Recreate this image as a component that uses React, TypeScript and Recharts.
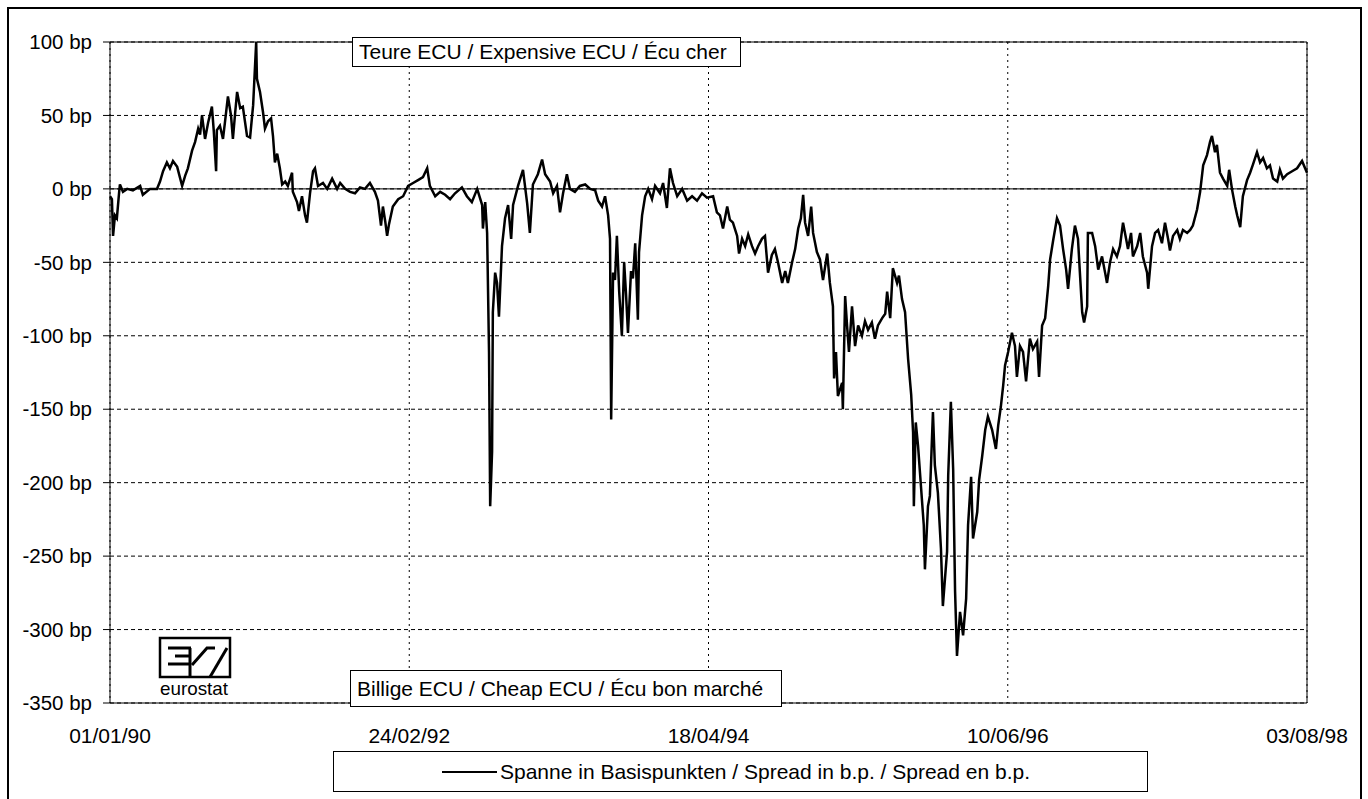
import React from 'react';
import { LineChart, Line, XAxis, YAxis, CartesianGrid, ReferenceLine, Legend } from 'recharts';

const FONT = '"Liberation Sans", Arial, Helvetica, sans-serif';

// days since 01/01/90
const dayOffsets = [
  0, 5, 8, 13, 18, 24, 26, 34, 45, 60,
  79, 86, 105, 123, 131, 139, 149, 157, 165, 176,
  183, 189, 197, 204, 215, 223, 231, 236, 241, 249,
  257, 267, 272, 278, 280, 288, 296, 301, 309, 317,
  322, 328, 333, 341, 348, 359, 367, 375, 383, 385,
  393, 401, 406, 414, 422, 427, 432, 438, 445, 451,
  459, 466, 477, 479, 490, 495, 503, 511, 516, 524,
  532, 537, 545, 558, 569, 582, 595, 603, 616, 629,
  642, 655, 668, 681, 694, 702, 710, 715, 721, 726,
  731, 741, 755, 768, 781, 794, 807, 820, 831, 838,
  852, 865, 878, 891, 904, 922, 935, 948, 962, 975,
  977, 983, 988, 993, 996, 1001, 1003, 1009, 1014, 1019,
  1027, 1035, 1043, 1051, 1056, 1069, 1082, 1093, 1100, 1108,
  1121, 1132, 1140, 1153, 1161, 1171, 1179, 1187, 1197, 1205,
  1218, 1231, 1245, 1258, 1271, 1279, 1289, 1297, 1305, 1310,
  1313, 1318, 1323, 1328, 1334, 1341, 1347, 1352, 1357, 1365,
  1370, 1376, 1383, 1386, 1394, 1402, 1410, 1420, 1428, 1441,
  1449, 1459, 1467, 1475, 1486, 1499, 1512, 1525, 1538, 1551,
  1564, 1580, 1590, 1598, 1606, 1617, 1624, 1632, 1643, 1648,
  1656, 1664, 1672, 1682, 1690, 1698, 1708, 1716, 1724, 1734,
  1742, 1750, 1761, 1769, 1776, 1787, 1795, 1803, 1810, 1816,
  1821, 1829, 1837, 1842, 1852, 1860, 1868, 1879, 1886, 1894,
  1897, 1902, 1907, 1918, 1920, 1926, 1931, 1936, 1944, 1952,
  1960, 1970, 1978, 1986, 1996, 2004, 2012, 2023, 2031, 2036,
  2044, 2051, 2062, 2067, 2075, 2083, 2091, 2099, 2104, 2106,
  2111, 2117, 2122, 2127, 2132, 2135, 2143, 2148, 2156, 2161,
  2169, 2177, 2182, 2193, 2196, 2203, 2209, 2214, 2219, 2227,
  2235, 2243, 2248, 2256, 2261, 2272, 2277, 2285, 2293, 2300,
  2311, 2321, 2327, 2334, 2340, 2345, 2353, 2363, 2371, 2376,
  2384, 2392, 2400, 2410, 2418, 2429, 2434, 2442, 2450, 2458,
  2463, 2471, 2481, 2489, 2497, 2505, 2510, 2520, 2528, 2536,
  2541, 2547, 2552, 2560, 2562, 2573, 2581, 2589, 2599, 2607,
  2612, 2620, 2628, 2638, 2646, 2654, 2662, 2667, 2675, 2680,
  2691, 2699, 2706, 2717, 2720, 2730, 2738, 2746, 2756, 2764,
  2772, 2777, 2785, 2796, 2803, 2811, 2822, 2830, 2837, 2848,
  2856, 2864, 2874, 2882, 2887, 2895, 2900, 2908, 2916, 2927,
  2932, 2940, 2948, 2953, 2961, 2968, 2979, 2987, 2995, 3005,
  3013, 3021, 3031, 3039, 3047, 3058, 3065, 3073, 3084, 3097,
  3110, 3123, 3131, 3136,
];

// spread in basis points, same order as dayOffsets
const spreadBp = [
  -5, -7, -32, -18, -20, -2, 3, -2, 0, -1,
  2, -4, 0, 0, 5, 12, 18, 14, 19, 15,
  8, 2, 9, 14, 26, 32, 41, 37, 50, 34,
  45, 56, 39, 12, 40, 43, 34, 45, 63, 50,
  34, 52, 66, 55, 56, 36, 35, 57, 100, 75,
  66, 52, 41, 46, 48, 36, 18, 24, 14, 3,
  5, 2, 11, -2, -9, -15, -5, -18, -23, -3,
  12, 14, 2, 4, 0, 7, 0, 4, 0, -2,
  -3, 1, 0, 4, -2, -8, -25, -12, -22, -32,
  -24, -12, -7, -5, 2, 4, 6, 8, 14, 2,
  -5, -2, -4, -7, -3, 1, -5, -9, 0, -11,
  -27, -9, -30, -111, -216, -179, -84, -57, -64, -87,
  -39, -20, -11, -34, -11, 2, 13, -10, -30, 3,
  10, 20, 10, 5, -3, 2, -16, -3, 10, 0,
  -2, 2, 3, 0, -1, -8, -12, -5, -18, -34,
  -157, -57, -62, -32, -70, -100, -50, -72, -98, -56,
  -61, -37, -89, -43, -18, -5, 0, -7, 2, -3,
  4, -13, 14, 4, -5, 0, -8, -5, -8, -3,
  -6, -5, -16, -18, -27, -12, -21, -23, -32, -44,
  -34, -39, -31, -39, -44, -39, -34, -32, -57, -45,
  -41, -50, -64, -56, -64, -50, -41, -27, -20, -4,
  -23, -32, -12, -30, -43, -48, -62, -44, -64, -80,
  -129, -111, -141, -132, -150, -73, -93, -111, -80, -107,
  -93, -100, -90, -96, -91, -102, -93, -88, -85, -70,
  -88, -54, -64, -59, -75, -84, -116, -140, -166, -216,
  -159, -175, -193, -211, -229, -259, -216, -209, -152, -188,
  -207, -245, -284, -247, -195, -145, -191, -274, -318, -288,
  -304, -279, -229, -196, -238, -220, -198, -182, -164, -155,
  -164, -177, -161, -148, -134, -120, -111, -98, -107, -128,
  -107, -111, -131, -102, -109, -104, -128, -93, -88, -66,
  -48, -35, -20, -25, -41, -55, -68, -41, -25, -34,
  -57, -84, -91, -80, -30, -30, -39, -55, -46, -57,
  -64, -50, -41, -46, -39, -23, -34, -41, -30, -46,
  -39, -30, -46, -57, -68, -39, -30, -28, -37, -23,
  -34, -42, -32, -28, -34, -28, -30, -28, -25, -14,
  -2, 16, 23, 32, 36, 25, 30, 11, 7, 2,
  13, -1, -12, -18, -26, -5, 6, 11, 17, 25,
  18, 21, 14, 16, 7, 5, 13, 7, 10, 12,
  14, 19, 14, 11,
];

const tickDays = [0, 784, 1568, 2352, 3136];
const tickDates = ['01/01/90', '24/02/92', '18/04/94', '10/06/96', '03/08/98'];
const bpTicks = [-350, -300, -250, -200, -150, -100, -50, 0, 50, 100];

const seriesName = 'Spanne in Basispunkten / Spread in b.p. / Spread en b.p.';
const expensiveLabel = 'Teure ECU / Expensive ECU / Écu cher';
const cheapLabel = 'Billige ECU / Cheap ECU / Écu bon marché';

const chartData = dayOffsets.map((day, i) => ({ day, spread: spreadBp[i] }));

const LegendBox = () => (
  <div
    style={{
      width: 815,
      height: 41,
      border: '1px solid #000',
      boxSizing: 'border-box',
      background: '#fff',
      display: 'flex',
      alignItems: 'center',
      fontFamily: FONT,
      fontSize: 21,
      color: '#000',
      whiteSpace: 'nowrap',
    }}
  >
    <span style={{ display: 'inline-block', width: 55, borderTop: '2px solid #000', marginLeft: 108, marginRight: 3 }} />
    <span>{seriesName}</span>
  </div>
);

const EurostatLogo = () => (
  <svg width={80} height={66} style={{ position: 'absolute', left: 156, top: 636 }}>
    <rect x={4} y={2} width={70} height={39} fill="none" stroke="#000" strokeWidth={2.5} />
    <line x1={12} y1={12} x2={35} y2={12} stroke="#000" strokeWidth={3} />
    <line x1={19} y1={20} x2={35} y2={20} stroke="#000" strokeWidth={3} />
    <line x1={12} y1={28} x2={35} y2={28} stroke="#000" strokeWidth={3} />
    <line x1={34} y1={12} x2={34} y2={41} stroke="#000" strokeWidth={3} />
    <polyline points="36,29 51,12 59,12" fill="none" stroke="#000" strokeWidth={3} />
    <line x1={54} y1={41} x2={71} y2={12} stroke="#000" strokeWidth={3} />
    <text x={4} y={59} fontFamily={FONT} fontSize={19} textLength={68} lengthAdjust="spacingAndGlyphs" fill="#000">
      eurostat
    </text>
  </svg>
);

const boxStyle: React.CSSProperties = {
  position: 'absolute',
  border: '1px solid #000',
  boxSizing: 'border-box',
  background: '#fff',
  fontFamily: FONT,
  fontSize: 21,
  color: '#000',
  paddingLeft: 6,
  whiteSpace: 'nowrap',
};

export default function App() {
  return (
    <div
      style={{
        position: 'absolute',
        left: 0,
        top: 0,
        width: 1368,
        height: 799,
        overflow: 'hidden',
        background: '#fff',
        fontFamily: FONT,
      }}
    >
      <LineChart width={1368} height={799} data={chartData} margin={{ top: 42, right: 61, bottom: 66, left: 10 }}>
        <CartesianGrid vertical={false} stroke="#000" strokeDasharray="4 3" />
        <CartesianGrid horizontal={false} stroke="#000" strokeDasharray="2 4" />
        <XAxis
          dataKey="day"
          type="number"
          domain={[0, 3136]}
          ticks={tickDays}
          tickFormatter={(d: number) => tickDates[tickDays.indexOf(d)]}
          axisLine={{ stroke: '#000' }}
          tickLine={false}
          tickSize={0}
          tickMargin={25}
          height={30}
          tick={{ fill: '#000', fontSize: 21, fontFamily: FONT }}
          interval={0}
        />
        <YAxis
          type="number"
          domain={[-350, 100]}
          ticks={bpTicks}
          tickFormatter={(v: number) => `${v} bp`}
          axisLine={{ stroke: '#000' }}
          tickLine={{ stroke: '#000' }}
          tickSize={7}
          tickMargin={11}
          width={100}
          tick={{ fill: '#000', fontSize: 20.5, fontFamily: FONT }}
          interval={0}
        />
        <ReferenceLine y={0} stroke="#000" strokeWidth={1} />
        <ReferenceLine y={100} stroke="#000" strokeWidth={1} />
        <ReferenceLine x={3136} stroke="#000" strokeWidth={1} />
        <Line
          type="linear"
          dataKey="spread"
          name={seriesName}
          stroke="#000"
          strokeWidth={2.5}
          dot={false}
          isAnimationActive={false}
        />
        <Legend
          layout="vertical"
          align="center"
          verticalAlign="middle"
          content={() => <LegendBox />}
          wrapperStyle={{ left: 333, top: 751, width: 815, height: 41 }}
        />
      </LineChart>

      <div style={{ ...boxStyle, left: 352, top: 37, width: 389, height: 30, lineHeight: '28px' }}>{expensiveLabel}</div>
      <div style={{ ...boxStyle, left: 350, top: 670, width: 432, height: 37, lineHeight: '35px' }}>{cheapLabel}</div>
      <EurostatLogo />
      <div
        style={{
          position: 'absolute',
          left: 7,
          top: 7,
          width: 1355,
          height: 820,
          border: '2px solid #000',
          boxSizing: 'border-box',
          pointerEvents: 'none',
        }}
      />
    </div>
  );
}
